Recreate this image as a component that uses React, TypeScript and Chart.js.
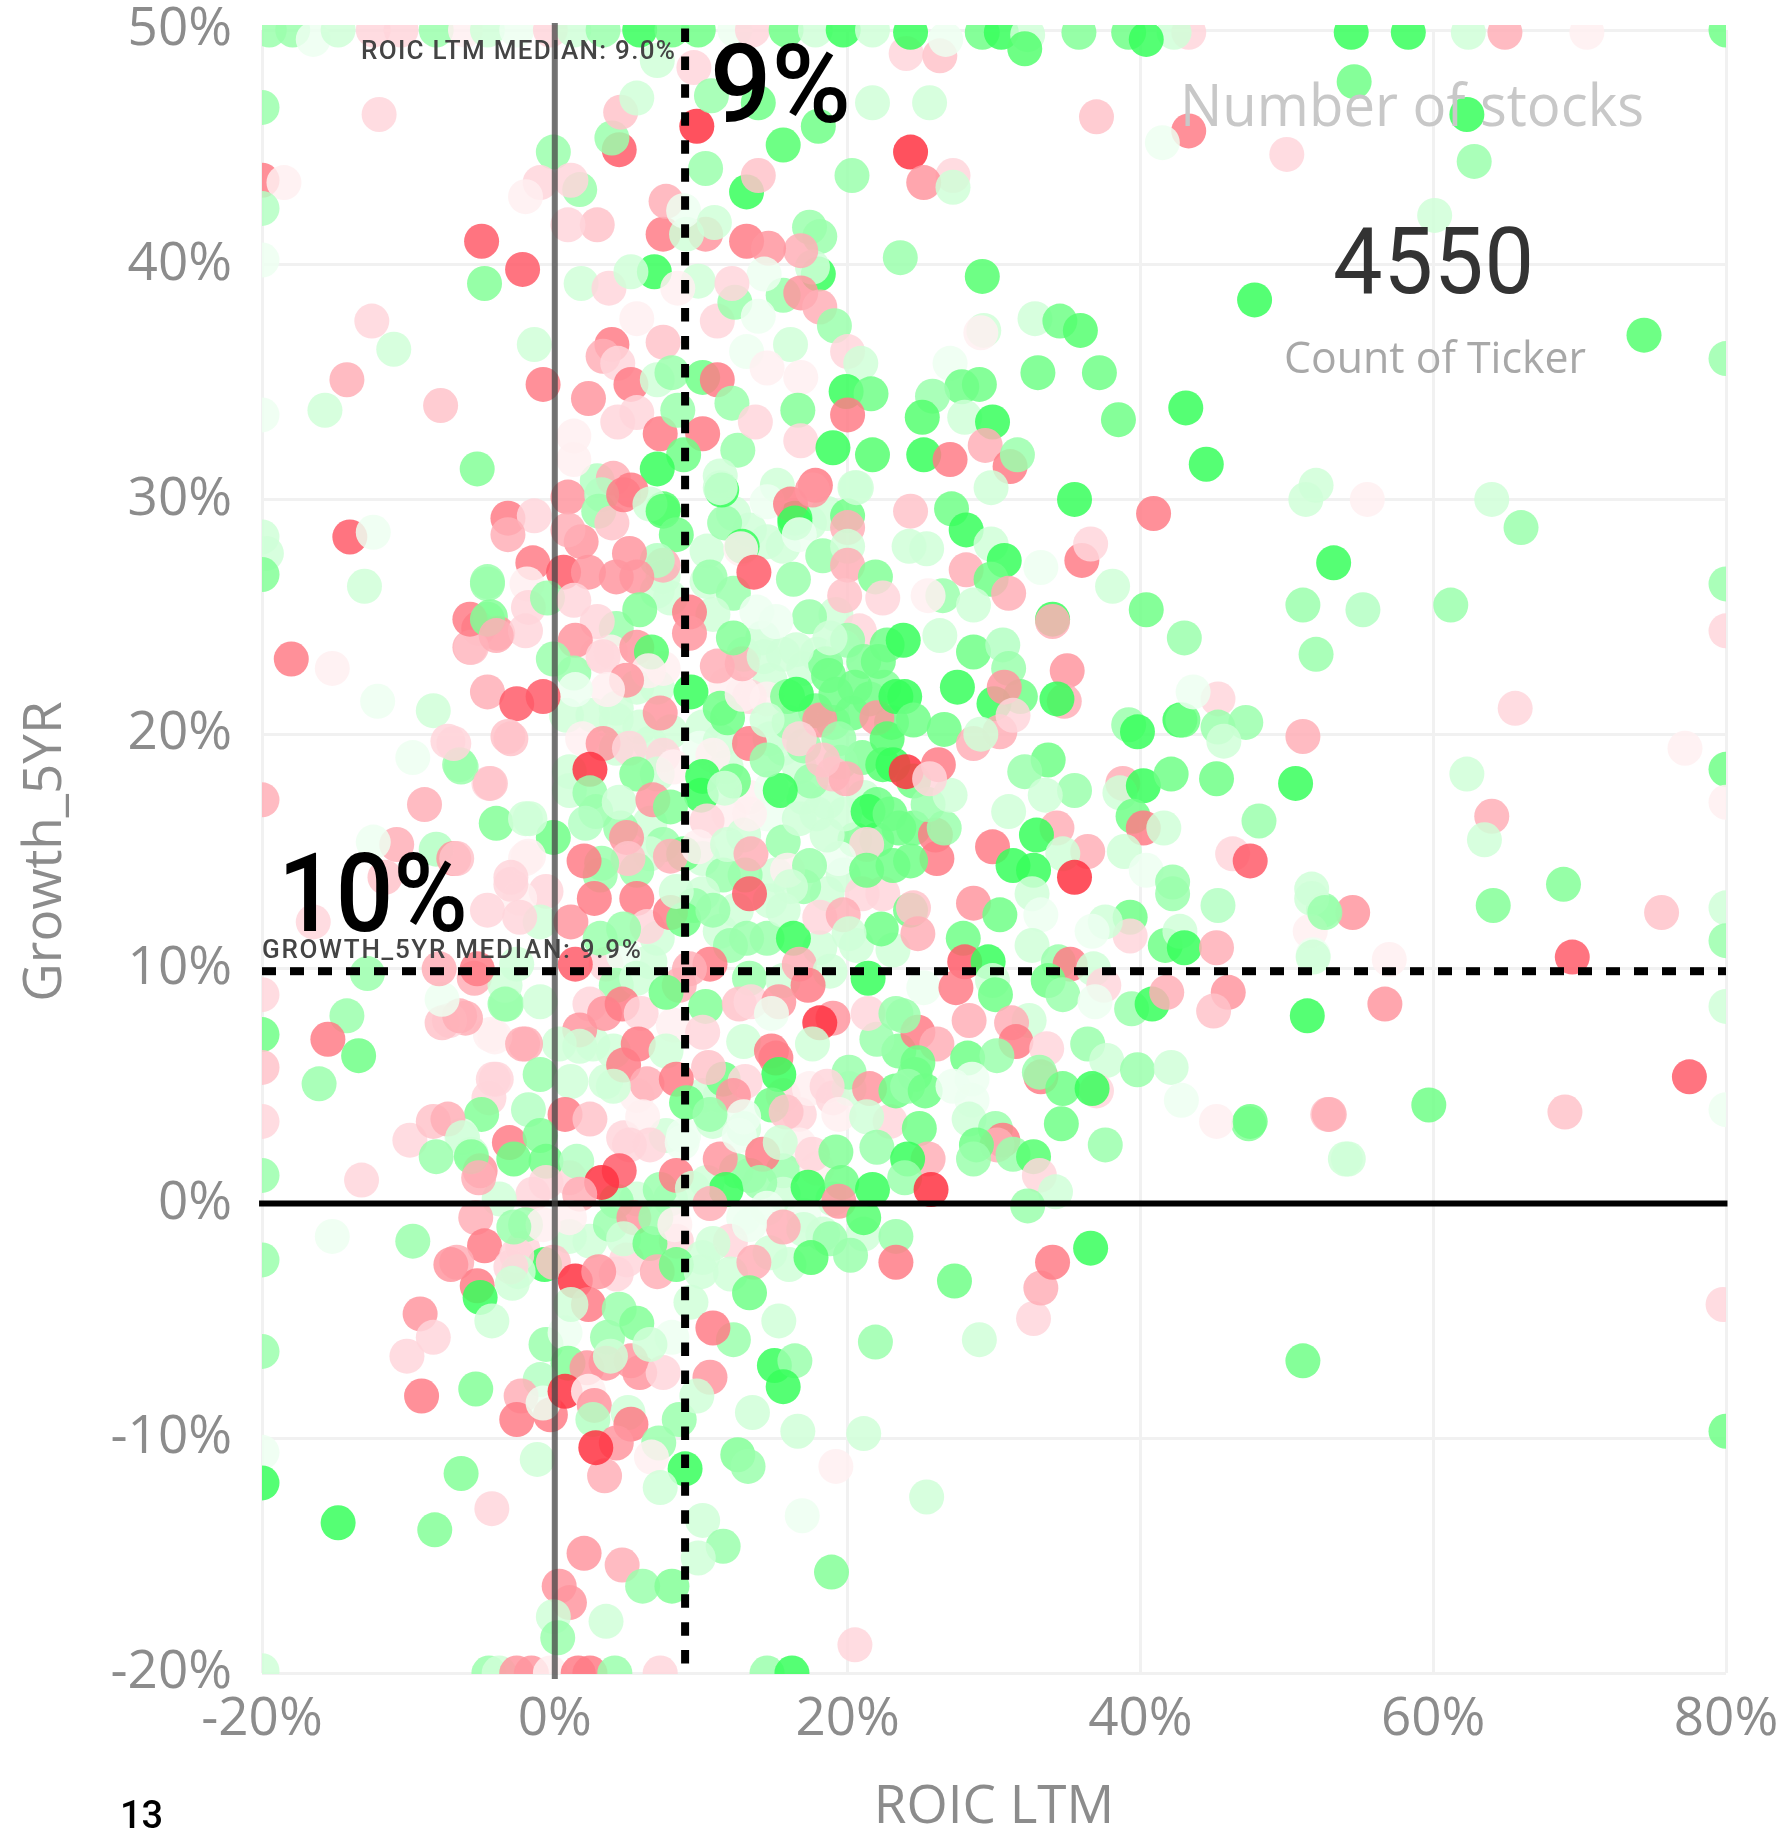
import React, { useEffect, useRef } from "react";
import { Chart, registerables } from "chart.js";

Chart.register(...registerables);

// Each stock: [ROIC LTM %, Growth_5YR %, colour measure] (positive = green, negative = red)
type P = [number, number, number];

const xTicksMin = -20, xTicksMax = 80, yTicksMin = -20, yTicksMax = 50;
const roicMedian = 8.9;
const growthMedian = 9.9;

const paleBackground: P[] = [
  [2.6,20.8,1],[4.2,20.6,1],[5.8,20.3,1],[7.9,20.1,1],[4.2,21.1,1],[.8,20.8,1],[6.5,19.6,1],[10.1,20.3,1],[9.9,19.4,.5],[11.3,19.7,1],[11.7,18.6,1],[14.7,19.8,1],[15.6,19.4,1],[16.7,18.6,1],[17,17.3,1],[18.6,17.1,1],[17.9,16.6,1],[21.1,17.3,1],[13.3,17.3,-.5],[14.5,16.6,.5],[11.9,16.6,-.5],[12.9,15.7,1],[10.8,19.1,-.5],[7.4,19.1,-1],[7,18.3,1],[4.2,19.4,1],[1,18.4,1],[2.8,16.7,2],[1,17.6,1],[6.5,16.2,1],[7.4,15.3,2],[6.5,14.9,1],[5.6,14.2,2],[3.1,14,2],[10.1,14.7,1],[11.5,14,2],[15.1,14,1],[19.7,14,1],
  [12.2,29.4,1],[13.3,28.7,1],[14.5,28.2,1],[15.6,28,1],[17.4,29,1],[18.6,29.4,1],[10.4,26.5,1],[12.2,26,2],[10.8,25.1,1],[14.2,24.1,1],[12.9,23.4,1],[15.6,23.4,1],[17,22.8,1],[14.7,22.3,1],[11.7,22.1,-.5],[13.3,21.6,-1],[17.9,23.4,1],[19.2,25.1,1],[20.8,24.4,-1],[19.7,23.7,.5],[4.2,24.5,2],[3.8,23.5,-.5],[2.9,23.4,-.5],[5.6,22,1],[7,22,1],[7.4,22.8,-.5],[7.4,26.7,1],[7,26.1,1],[7.9,25.8,1],
  [-4.4,7.2,-.5],[2.6,6.8,1],[3.5,5.2,1],[5.6,4.6,-.5],[7.6,2.9,1],[4.7,2.8,-1],[8.8,2.9,.5],[10.8,3.5,1],[10.1,4.6,1],[11.3,4.6,1],[12.9,3.2,1],[15.6,4.6,-1],[16.7,3.8,-1],[17.4,4.9,-.5],[19,4.5,-1],[20.1,4.9,1],[22.9,3.5,-1],[16.7,2.5,-.5],[15.6,1.4,2],[17.9,1.5,-.5],[12.4,1.4,2],[13.3,1.2,2],[15.6,.4,1],[19,.2,1],[10.4,.9,1],[5.6,.2,1],[7.9,.2,1],[4.2,.1,2],[1,1.1,-1],[-1.5,.4,-1],[-3.8,.2,1],
  [12.9,-.6,.5],[17,-.5,.5],[21.1,-1.3,1],[18.3,-1.3,1],[8.3,-1.6,-1],[10.1,-2.3,1],[14.7,-2.1,1],[17,-1.1,1],[12,-1.6,-1],[2.4,-1.6,1],[1,-1.4,1],[-2.2,-1.9,-1],[4.9,-2.4,-1],[4.2,-3,-1],[12,-3,1],[16,-2.6,1],
  [-.6,13.3,-1],[-2.4,13,-.5],[-1,12,1],[10.1,13.2,1],[12.4,12.5,1],[14.7,12.9,1],[18.6,13.2,1],[21,13.2,-1],[22.4,13.2,-1],[11.3,11.6,1],[14.5,11.3,2],[18.1,10.9,1],[20.6,11,1],[23.1,10.8,1],[6.5,10.3,1],[7,11.3,1],[3.5,10.2,-1],[4.7,10.6,.5],[13.3,9.6,2],[15.6,9.5,1],
];
const greenMass: P[] = [
  [17.8,21,3],[19,20.5,2.5],[20.3,20.9,3],[21.5,21.5,3],[18.5,23,2.5],[20,24,2],[22.5,22,2.5],[23,20.5,3],[21,19,2.5],[19.5,18.8,2],[17.5,18,2],[22,17,3],[23.5,16,3],[20.5,15.5,2.5],[22,15.5,3],[24.5,18,3],[24.5,16,3],[17,13.5,2],[16,20.5,2],[17,19.5,2],[24.6,5.5,3],[23.5,6.5,2.5],[22,7,2],[13,14,2],[9.5,12.7,2],[4.5,16,2],[12,11,2],
];
const topEdge: P[] = [
  [-19.5,50,2],[-17.9,50,2],[-16.5,49.6,.5],[-14.8,50,1],[-12.4,50,-1],[-10.5,50,-1],[-8.1,50,2],[-6.1,50,-.5],[-4.6,50,1],[-2.6,50,.5],[-.3,50,-1],[1.3,50,1],[3.3,50,2],[5.8,50,4],[8,50,3],[9.8,50,3],[12.3,50,.5],[13.5,50,-1],[15.8,50,3],[17.8,50,1],[19.7,50,4],[21.7,50,1],
  [24,49,-1],[26.3,48.9,-1.5],[24.3,49.9,4],[26.7,49.6,.5],[29.2,49.9,3],[30.5,49.9,4],[32.3,49.8,1],[32.1,49.2,3.5],[35.8,49.9,2.5],[39.2,49.9,3],[43.3,49.9,-1],[42.3,49.9,1],[40.4,49.6,4],[54.4,49.9,4],[58.3,49.9,4],[62.4,49.9,1],[64.9,49.9,-2],[70.5,49.9,-.5],[80,50,3],
];
const leftEdge: P[] = [
  [-20,46.7,2],[-20,43.6,-3],[-18.5,43.5,-.5],[-20,42.4,1.5],[-20,40.2,.5],[-20,33.6,.5],[-20,28.4,1],[-19.7,27.7,1],[-20,26.8,2.5],[-20,17.2,-2],[-20,8.9,-1],[-20,7.2,3],[-20,5.8,-1.5],[-20,3.5,-1],[-20,1.2,2],[-20,-2.4,2],[-20,-6.3,2],[-20,-10.6,.5],[-20,-11.9,4],[-20,-19.9,1],
];
const rightEdge: P[] = [
  [80,36,2],[80,26.4,2],[80,24.4,-1],[80,18.5,3],[80,17.1,-.5],[80,12.6,1],[80,11.2,2],[80,8.4,1],[80,4,.5],[79.8,-4.3,-1],[80,-9.7,3],
];
const upperField: P[] = [
  [-12,46.4,-1],[-.1,44.8,2],[4.4,44.9,-3.5],[3.9,45.4,2],[4.5,46.5,-1.5],[5.6,47.1,1],[7,48.7,1],[9.5,48.4,-1],[9.7,45.9,-4],[10.7,47.2,2],[13.9,46.9,3],[18,45.9,3],[15.6,45.1,3.5],[13.1,43.1,4],[10.3,44.1,2],[13.9,43.8,-1.5],[21.7,46.9,1],[20.3,43.8,2],
  [17.4,41.6,2],[18.1,41.2,2],[18,39.6,4],[17.6,39.9,1],[16.8,40.6,-2],[13.1,41,-3],[14.6,40.7,-2.5],[10.3,41.3,-2.5],[7.4,41.3,-3],[9,41.3,1],[7.6,42.7,-2],[8.8,42.3,.5],[10.9,41.8,1],[2.9,41.7,-1.5],[.9,41.7,-1],[1.7,43.2,2],[1.1,43.6,-1],[-1,43.5,-1],[-2,42.9,-.5],[-5,41,-3.5],[-2.2,39.8,-3.5],[-4.8,39.2,2.5],[1.8,39.2,1],[3.7,39,-1],[6.8,39.7,4],[5.2,39.7,1],[9.8,39.3,1],[8.4,39,-.5],
  [5.6,37.7,-.5],[11.1,37.6,-1],[12.3,38.4,2],[15.6,38.7,2],[16.8,38.8,-2.5],[14.3,39.6,.5],[12.1,39.2,-1],[18.1,38.2,-2],[19.1,37.4,2],[13.9,37.8,.5],[20,36.3,-1],[20.9,35.8,1],[16.1,36.6,1],[13.1,36.3,.5],[7.4,36.7,-1.5],[3.9,36.6,-3],[3.3,36.1,-2],[4.3,35.8,-1],[5.2,34.9,-3],[7,35.1,1],[8,35.4,2],[10.1,35.2,3],[11.1,35.1,-3],[14.5,35.6,-.5],[16.8,35.2,-.5],[12.1,34.1,2],[16.6,33.8,2.5],[19.9,34.6,4],[21.6,34.5,3],[20,33.6,-3],[2.3,34.3,-2.5],[-.8,34.9,-3],[-1.4,36.6,1],[-12.5,37.6,-1],[-11,36.4,1],[-14.2,35.1,-2],[-15.7,33.8,1],[-7.8,34,-1.5],[-5.3,31.3,2.5],
  [1.3,32.7,-.5],[4.3,33.3,-1],[5.6,33.7,-1],[7.2,32.8,-3],[8.4,33.8,2],[10.1,32.8,-3],[12.5,32.1,2],[13.7,33.3,-1],[16.8,32.5,-1],[19,32.2,4],[21.7,31.9,3.5],[8.8,31.9,3],[11.3,31,1],[7,31.3,4],[2.9,30.8,1.5],[4,30.9,-2],[1.3,31.7,-.5],[5.2,30.4,-3],[7.4,29.6,3.5],[16.4,29.2,4],[17.8,30.6,-3],[20.5,30.5,1],[15.2,30.6,1],
  [-14,28.4,-3.5],[-12.4,28.6,.5],[-13,26.3,1],[-4.6,26.5,2],
  [25.6,46.9,1],[24.3,44.8,-4],[27.2,43.8,-1],[25.2,43.5,-2.5],[27.2,43.3,1],[23.6,40.3,2],[29.2,39.5,3.5],[47.8,38.5,4],[74.4,37,3.5],[29.3,37.2,1],[29.1,37.1,-.5],[32.8,37.7,1],[34.5,37.6,3],[35.9,37.2,3.5],[27,35.8,.5],[33,35.4,3],[37.2,35.4,3],[29,34.9,3],[27.8,34.8,3],[25.8,34.4,2],[25.1,33.5,3.5],[28,33.5,1],[29.9,33.3,4],[38.5,33.4,3],[43.1,33.9,4],[44.5,31.5,4],[25.2,31.9,4],[27,31.7,-3],[29.4,32.3,-2],[31.1,31.4,-3],[31.6,31.9,2],[29.8,30.5,1],
  [54.6,47.8,3],[62.3,46.4,4],[62.8,44.4,2],[43.3,45.7,-3],[41.5,45.2,.5],[37,46.3,-1.5],[50,44.7,-1],[60.1,42.1,1],
];
const middleLeft: P[] = [
  [-3.2,29.2,-3],[-1.4,29.3,-1],[-3.2,28.5,-2],[-1.5,27.3,-3],[.6,26.9,-3.5],[2.3,26.9,-2.5],[.9,30.1,-2.5],[1.8,28.2,-2.5],[.9,28.7,-2],[-4.6,26.4,2],[-5.2,24.5,-3],[-4.4,25,2.5],[-3.9,24.3,-2.5],[-5.8,23.7,-2],[-1.9,26.4,-.5],[-1.8,25.4,-1],[-2,24.4,-1],[-.5,25.8,2],[1.3,25.7,-1],[2.9,24.8,-1],[1.4,24,-2.5],[-.1,23.2,2],[1.3,22.6,2],
  [3.2,30.2,1.5],[3,29.5,2],[3.9,29,-1.5],[4.7,30.2,-3],[6.5,29.8,1],[7.4,29.5,3.5],[8.3,28.5,3],[7.4,27.2,-2],[7,27.4,1.5],[5.1,27.7,-2.5],[4.2,26.7,-2.5],[5.6,26.7,-2.5],[5.8,25.3,2.5],[9.2,25.2,-3],[9.2,24.3,-2.5],[5.6,23.7,-2.5],[6.6,23.5,3.5],[3.3,23.3,-1],[6.4,22.7,-.5],[4.9,22.3,-2.5],[3.6,21.9,-.5],[1.4,21.9,.5],[7.2,20.9,-2.5],
  [-18,23.2,-3],[-15.2,22.8,-.5],[-12.1,21.4,.5],[-8.3,21,1],[-4.6,21.8,-2],[-2.6,21.3,-3.5],[-.8,21.6,-3.5],[-5.7,23.7,-1.5],[-5.8,24.9,-3],[-4.6,24.9,2.5],[-4,24.2,-2],[-3.2,19.9,-1.5],[-7.3,19.7,-1],[-6.5,18.7,2],[-4.5,17.9,-1],[-9.7,19,.5],[-8.9,17,-2],[-4,16.2,2.5],[-2,16.4,1],[-.1,15.6,3],[-10.8,15.3,-2],[-12.4,15.4,.5],[-8.1,15.1,1.5],[-6.9,14.7,-2.5],[-11.6,13.9,-1.5],[-2,14.7,-.5],[-3,13.6,-1],[-4.6,12.5,-1],[-16.5,12,-1],
  [-3,19.8,-1.5],[-6.4,18.6,2],[-6.9,19.6,-1],[-4.4,17.9,-1.5],[1.9,19.8,-.5],[3.3,19.6,-2.5],[5.1,19.4,-1],[2.4,18.5,-4],[5.6,18.3,2.5],[8.1,18.6,-.5],[10.1,18.2,4],[10,17.4,4],[12.2,18,3],[11.6,17.7,1],[2.4,17.5,2],[4.4,17.1,1],[6.7,17.2,-2.5],[7.9,16.9,2.5],[-1.7,16.4,1],[2.1,16.2,1.5],[4.9,15.6,-2.5],[5,14.7,-1.5],[3.2,14.5,2],[2,14.6,-3],[-1.8,14.8,-.5],[-6.7,14.7,-1.5],[-3,13.9,-1],
  [8.8,14.9,3],[7.9,14.8,-2],[10.4,16.3,-1],[9.8,15.2,-.5],[11.8,15.3,1],[13.4,14.9,-2],[15.6,15.4,2],[14.8,17.7,.5],[15.4,17.6,4],[15.9,14.2,-.5],[13.3,16.6,-.5],
];
const middleCentre: P[] = [
  [9.3,21.8,4],[11.3,21.1,3],[11.8,20.7,3],[12.8,21.7,-.5],[14.5,21.5,-.5],[15.9,21.6,2.5],[16.5,21.7,4],[18.1,20.6,-2.5],[16.7,19.8,-1],[13.3,19.6,-3],[19.4,19.8,2],[22,20.7,-2.5],[22.7,19.8,3.5],[14.5,20.6,1],[14.5,18.9,2],
  [11.1,22.9,-2],[12.8,23,-2],[12.2,24.1,2.5],[10.4,27.8,1],[11.6,29,2],[11.4,30.4,4],[11.3,30.5,1],[10.6,26.7,2],[12.8,28,4],[12.7,27.9,-.5],[13.6,26.9,-3.5],[14.5,29.9,.5],[16.1,29.8,-3],[16.4,29,4],[16.7,28.5,.5],[18.3,27.6,2],[16.3,26.6,2],[17.6,30.4,-2.5],[20,29.3,3],[20,28.8,-2],[20,28,1],[20,27.2,-2],[20.6,30.5,1],[21.9,26.7,2.5],[19.8,25.9,-1.5],[22.4,25.8,-1],[17.4,25,2],[13.8,25.2,.5],[15.1,24.8,.5],[18.8,24.1,1],[16.5,23.6,1],[14.3,23.3,1],[21.1,23.1,2.5],[18.7,22.5,3],[20.5,22,3],[19.2,21.7,3],[22.7,23.8,3],[22.1,23.1,3],[23.3,21.6,4],
  [19,18.3,-1.5],[19.9,18.1,-2],[18.3,18.9,-1.5],[19.8,16.6,1],[21.4,16.7,4],[22.4,18.7,3.5],[21.3,15.3,-1],[19.4,14.7,.5],[17.4,14.4,2],[21.3,14.2,3],[23.1,14.4,3],[18.6,15.7,1],[16.7,16.4,1],[22.9,16.6,3],[23.1,18.7,4],
];
const middleRight: P[] = [
  [24.3,29.5,-1.5],[27.1,29.6,3],[28.1,28.7,4],[29.8,28.1,1],[24.2,28,1],[25.4,27.9,1],[30.7,27.4,4],[28.1,27,-2],[29.8,26.6,3],[31,26,-2],[33.2,27.1,.5],[36,27.4,-3],[36.6,28.1,-1],[35.5,30,4],[40.9,29.4,-3],[51.3,30,1],[52,30.6,1],[53.2,27.3,4],[51.1,25.5,2],[52,23.4,2],[38.1,26.3,1],[40.4,25.3,3],[43,24.1,2],[34,24.9,4],[34,24.8,-2],[26.3,24.2,1],[28.6,23.5,3],[30.6,23.8,1.5],[26.5,25.9,2],[25.5,25.9,-.5],[28.6,25.5,1],[23.8,24,4],
  [35,22.7,-2.5],[31,22.8,2],[27.5,22,4],[31.8,21.6,3],[30,21.3,4],[30.7,22,-2.5],[34.8,21.4,-2],[34.3,21.5,4],[23.9,21.6,4],[24.5,20.6,3],[26.6,20.2,3],[30.4,20.1,-2],[28.6,19.6,-2],[29.1,20,1],[31.3,20.8,-1],[39.2,20.4,2],[39.8,20.1,4],[42.7,20.6,4],[42.9,20.6,3],[45.3,21.5,-1],[43.6,21.8,.5],[45.3,20.3,2],[47.2,20.5,2],[45.7,19.7,1],[51.1,19.9,-2],
  [33.7,18.9,3],[32.1,18.4,2],[35.5,17.6,2],[33.5,17.4,1],[38.8,17.9,-2],[38.6,17.5,1],[40.2,17.8,4],[42.1,18.3,3],[45.2,18.1,3],[50.6,17.9,4],[48.1,16.3,2],[46.3,14.9,-1],[47.5,14.6,-3.5],[39.5,16.5,3],[40.2,16,-3],[41.6,16,1],[38.9,15,1],[34.3,16,-2],[32.9,15.7,4],[36.4,15,-2],[34.7,14.9,1],[29.9,15.2,-3],[31.3,14.4,4],[32.7,14.2,4],[35.5,13.9,-4],[26,15.7,-3],[26.1,14.7,-3],[26.6,16,2],[24.3,14.6,3],[25.5,17,2],[27,17.4,1],[31,16.7,1],[24,18.4,-4],[26.2,18.7,-3],[25.6,18.1,-1],[40.4,14.2,.5],[42.2,13.7,2],
  [65.6,21.1,-1],[77.2,19.4,-.5],[62.3,18.3,1],[64,16.5,-2],[63.5,15.5,1],[68.9,13.6,2.5],[64.1,12.7,2.5],[75.6,12.4,-1.5],[54.5,12.4,-2.5],[52.5,12.5,2],[51.7,13.4,1],[51.6,11.6,-.5],[51.8,10.6,.5],[57,10.4,-.5],[69.5,10.5,-3.5],[56.7,8.5,-2.5],[51.4,8,4],[77.5,5.4,-3.5],[59.7,4.2,3],[69,3.9,-1.5],[52.8,3.8,-1.5],[47.4,3.4,2.5],[45.2,3.5,-.5],[54.2,1.9,1],[55.2,25.3,1.5],[61.2,25.5,2],[64,30,1],[66,28.8,2],[55.5,30,-.5],
];
const lowerLeft: P[] = [
  [-2.4,12.2,-1],[1.1,12,-2.5],[2.7,13,-3],[5.6,13,-3],[6.3,11.8,-1],[3.1,11.3,2],[4.7,11.7,2],[7.9,12.4,-3],[8.8,12.1,3],[10.8,12.5,2],[8.3,13.3,1],[10.6,10.2,-3],[9.2,10,-2],[13.3,13.2,-3.5],[13.1,11.3,2],[15.6,12.5,1],[16.3,11.3,4],[18.1,12.2,-1],[19.7,12.3,-2],[22.3,11.7,3],[16.7,10.2,-2],[18.8,9.9,1],[21.4,9.6,4],[17.3,9.3,-3],[20.1,11.5,1],[16.1,13.5,1],
  [1.4,10.2,-3.5],[-5.5,9.6,-2],[-3.3,8.5,2],[-6.1,7.9,-2],[-7.2,7.8,-1],[-1,8.6,1],[-3.4,9.3,1],[-2.6,10.2,1],[4.2,9.3,2],[5.6,9.6,1],[2.4,8.5,-1],[3.4,8.1,-2.5],[4.6,8.5,-3],[5.9,8.1,-1],[8.1,7.6,-.5],[8.5,9.3,-2],[7.6,9,3],[10.3,8.4,2.5],[12.6,8.5,-1.5],[13.4,8.6,-1],[15.3,8.6,-2.5],[14.8,8.1,.5],[19,7.9,-2.5],[18.1,7.7,-4],[17.6,6.8,1],[21.4,8.1,-1],[23.3,8.1,2],[12.9,6.9,1],[10.1,7.3,-1],[1.7,7.4,-2.5],[1.7,6.7,1],[.3,6.8,1],[-2,6.8,-2],[-4.1,7.1,-.5],[4,6.5,1],[5.7,6.8,-3],[4.7,5.9,-3],[7.6,6.5,1],[11.5,5.3,3],[10.5,5.8,-1.5],[6.3,5.1,-2],[8.3,5.3,-3],[14.8,6.5,-3],[15.1,6.2,-3],[15.3,5.5,4],[20.1,5.6,2],[18.6,5,-1],[21.5,4.9,-2.5],[13,5.2,-1],[12.2,4.6,-2.5],[14.8,4.2,3],[15.8,3.9,-1.5],[12.9,3.7,.5],[19.4,3.8,-.5],[21.3,3.7,1],[23.3,4.8,3],
  [-1,5.5,2],[1.1,5.2,1],[4,5,1],[-4,5.3,-1],[-4.5,4.5,-1],[-5,3.8,2.5],[-1.8,4,1.5],[.7,3.8,-3],[2.4,3.6,-1.5],[6,3.7,-.5],[9,4.3,3],[10.6,3.8,2],[-6.4,2.9,.5],[-3.1,2.6,-3],[-5.7,2.1,1],[-5.1,1.4,-2.5],[-2.8,1.9,3],[-1,2.9,2.5],[-.6,1.8,3],[1.5,1.8,1.5],[5.1,2.5,-1],[6.5,2.5,-1],[8.7,2.6,.5],[11.3,1.9,-2.5],[12.6,2.9,.5],[14.2,2.1,-3],[15.4,2.6,1],[17.6,2.1,-1],[19.2,2.2,2.5],[22,2.4,2],
  [4.4,1.4,-3.5],[3.2,.9,-4],[7.2,.6,2],[8.3,1.2,-3],[11.7,.6,4],[14,.9,2],[17.3,.7,4],[19.6,.9,3],[21.7,.6,4],[1.7,.4,-2],[-.6,.9,-1],[19.4,.1,-2.5],[21.1,-.6,3.5],[9.4,.65,1],[14.5,-.2,.5],
  [-14.2,8,2],[-15.5,7,-3],[-13.4,6.3,3],[-16.1,5.1,2],[-13.2,1,-1],[-9.9,2.7,-1],[-8.3,3.5,-1.5],[-7.3,3.6,-2],[-6.3,2.8,1],[-8.1,2,2],[-5.7,2,2.5],[-5.2,1.1,-2],[-7.7,7.7,-1.5],[-6.5,8,-2],[-7.7,8.7,.5],[-3.4,8.5,2],[-2.2,6.8,-2],[-4.2,5.3,-1],[-5.3,10,-3],[-12.8,9.8,2],[-7.9,10,-2],
];
const lowerRight: P[] = [
  [28.6,12.8,-2.5],[30.4,12.3,3],[32.6,13.2,1],[33.2,12.3,.5],[24.3,12.5,3],[24.5,12.6,-1.5],[24.8,11.5,-2],[27.9,11.3,3],[39.3,12.2,3],[39.3,11.4,-1],[37.6,12,1],[36.7,11.6,.5],[42.2,13.2,2],[45.3,12.7,1.5],[41.7,11,3],[42.7,11.6,1],[43,10.9,4],[45.2,10.9,-2],[51.7,13,1],[52.6,12.4,2],[51.8,10.5,1],
  [28,10.3,-3.5],[29.6,10.3,4],[29.9,9.5,1],[30.1,8.9,3],[32.6,11,1],[34.4,10.3,2],[35.2,10.2,-3],[36.8,10,1],[33.7,9.5,3],[34.7,8.9,2],[37.5,9.3,-1],[36.9,8.6,.5],[25.2,9.2,.5],[27.4,9.2,-3],[39.4,8.3,2],[40.8,8.5,4],[41.8,9,-2],[46,9,-2.5],[45,8.2,-1.5],
  [28.3,7.8,-2],[32.4,7.8,1],[31.2,7.7,-2],[31.5,6.9,-3],[33.6,6.6,-1],[24.8,7.3,-3],[26.1,6.8,-2],[23.8,8,2],[36.4,6.8,2],[37.7,6.1,1],[39.8,5.7,2],[42.1,5.8,1],[42.8,4.4,.5],[47.5,3.5,3],[52.9,3.8,-2],[54,1.9,1],
  [28.2,6.2,3],[30.2,6.3,2],[24.8,6,3],[24.1,5,2],[25.3,4.8,3],[28.5,5.3,.5],[27.2,5,.5],[28.5,4.4,.5],[33.2,5.4,-3],[33.1,5.6,2],[34.7,4.9,3],[37,4.8,-1],[36.7,4.9,4],[34.6,3.4,3],[37.6,2.5,2],[24.9,3.2,3],[28.3,3.6,1],[30.1,3.2,2],[30.6,2.7,-3],[30.2,2.5,-2],[28.8,2.5,3],[28.6,1.9,2],[31.3,2.1,2],[32.7,2,3.5],[33.1,1.2,-1],[34.2,.5,1],[32.3,-.1,2],[25.5,1.9,-2],[24.1,1.9,4],[23.9,1.1,2],[25.7,.6,-4],
];
const belowZero: P[] = [
  [-5.4,-.6,-2],[-4.8,-1.8,-3],[-6.7,-2.5,-2],[-2,-.9,2],[-.8,-.9,-.5],[1,-.6,-.5],[3.8,-.9,2],[5.4,-.6,-2.5],[4.7,-1.5,1],[6.5,-1.7,3],[6.9,-.6,2],[8.2,-.9,-.5],[10.8,-1.7,1],[10.6,0,-2],[15.6,-1,-2],[13.3,-.9,.5],[18.8,-1.5,2],[17.5,-2.3,3.5],[20.2,-2.2,2],[23.3,-1.4,2],[23.3,-2.5,-3],[-.7,-2.6,4],[-.1,-2.5,-1.5],[1.4,-3.3,-4],[3,-2.9,-2.5],[7,-2.9,-2],[8.3,-2.6,3],[13.6,-2.5,-2],[10,-2.9,1],[-2.6,-2.2,-1],[-2.5,-2.9,1],
  [-5.3,-3.5,-3],[-5.1,-4,4],[-4.3,-5,1],[-.6,-6,2],[.7,-5.5,.5],[.9,-6.8,2.5],[2.3,-4.3,-3],[1.1,-4.3,1],[3.6,-5.7,2],[4.4,-4.5,2],[5.6,-5.1,2.5],[8,-5.7,.5],[9.3,-4.2,1],[12.2,-5.8,2],[10.8,-5.3,-3],[13.3,-3.8,3],[15.3,-5,1],[15,-6.9,4],[16.4,-6.7,2],[15.6,-7.8,4],[21.9,-5.9,2],[13.5,-8.9,1],[16.6,-9.7,1],[21.1,-9.8,1],[12.5,-10.7,2.5],[13.2,-11.2,2],[19.2,-11.2,-.5],[16.9,-13.3,.5],[18.9,-15.7,2.5],[20.5,-18.8,-1],
  [3.5,-6.8,-2.5],[5.8,-7.2,-2.5],[7.4,-7.2,-1],[10.6,-7.4,-2.5],[5.2,-6.7,-2.5],[2.2,-7,-2.5],[3.8,-6.5,1],[6.5,-6,1],[-1,-7.5,1.5],[-2.3,-8.2,-2],[-2.6,-9.2,-3],[-.3,-9,-3],[-.8,-8.5,.5],[.7,-8,-4],[2.3,-8,-.5],[2.7,-8.6,-2.5],[2.6,-9.2,1.5],[5,-8.9,1],[5.2,-9.4,-3],[4.2,-10.2,-2.5],[7.1,-10.2,2],[8.5,-9.2,2],[9.7,-8.2,1],[3.4,-11.6,-2],[2.8,-10.4,-4],[6.6,-10.8,-.5],[8.9,-11.3,4],[7.2,-12.1,1],[-1.2,-10.9,1],[-6.4,-11.5,2.5],[-4.3,-13,-1],[10.1,-13.5,1],[11.5,-14.6,2],[9.8,-15.1,1],[2,-14.9,-2.5],[4.6,-15.4,-2],[6,-16.3,2],[8,-16.3,2.5],[.3,-16.3,-2.5],[1,-17,-2.5],[-.1,-17.6,1],[.2,-18.5,2],[3.5,-17.8,1],
  [-14.8,-13.6,4],[-8.2,-13.9,2.5],[-15.2,-1.4,.5],[-9.7,-1.6,2],[-7.1,-2.6,-2.5],[-9.2,-4.7,-2.5],[-8.3,-5.7,-1],[-10.1,-6.5,-1],[-9.1,-8.2,-3],[-5.4,-7.9,2.5],[-3,-2.7,-1],[-2.9,-3.4,1],[-2.8,-1,2],
  [29,-5.8,1],[32.7,-4.9,-1],[33.2,-3.6,-2],[34,-2.5,-3],[36.6,-1.9,4],[27.3,-3.3,3],[51.1,-6.7,3],[25.4,-12.5,1],
];
const bottomEdge: P[] = [
  [-4.5,-20,2],[-3.8,-20,1],[-2.6,-20,-2.5],[-1.6,-20,-2.5],[-.3,-20,-.5],[1.6,-20,-3],[2.4,-20,-3],[4.1,-20,2],[7.2,-20,-1],[14.5,-20,2],[16.2,-20,4],
];

const allStocks: P[] = [
  ...paleBackground, ...greenMass, ...topEdge, ...leftEdge, ...rightEdge, ...upperField, ...middleLeft, ...middleCentre,
  ...middleRight, ...lowerLeft, ...lowerRight, ...belowZero, ...bottomEdge,
];

const greenRamp: Record<string, number[]> = {
  "4": [55, 92], "3.5": [85, 112], "3": [112, 135], "2.5": [132, 152], "2": [155, 173], "1.5": [180, 195], "1": [208, 216], "0.5": [237, 241],
};
const redRamp: Record<string, number[]> = {
  "4": [50, 66], "3.5": [92, 106], "3": [124, 135], "2.5": [150, 160], "2": [175, 183], "1.5": [195, 202], "1": [214, 220], "0.5": [240, 241],
};
const colorFor = (k: number) => {
  const key = String(Math.abs(k));
  if (k > 0) {
    const [a, b] = greenRamp[key];
    return `rgba(${a},255,${b},0.85)`;
  }
  const [a, b] = redRamp[key];
  return `rgba(255,${a},${b},0.85)`;
};

const GREY = "#8c8c8c";
const AXIS_FONT = "'Open Sans'";

const textPlugin = {
  id: "overlayTexts",
  afterDatasetsDraw(chart: any) {
    const ctx = chart.ctx;
    const put = (t: string, x: number, y: number, font: string, color: string, maxW?: number, spacing?: string) => {
      ctx.save();
      ctx.font = font;
      ctx.fillStyle = color;
      ctx.textAlign = "left";
      ctx.textBaseline = "alphabetic";
      if (spacing) (ctx as any).letterSpacing = spacing;
      if (maxW) ctx.fillText(t, x, y, maxW);
      else ctx.fillText(t, x, y);
      ctx.restore();
    };
    put("ROIC LTM MEDIAN: 9.0%", 361, 59, "500 26px Roboto", "#444444", 316, "1.3px");
    put("GROWTH_5YR MEDIAN: 9.9%", 262, 958, "500 26px Roboto", "#444444", 381, "1.7px");
    put("9%", 710, 122, "500 110px Roboto", "#000000", 141);
    put("10%", 278, 931, "500 110px Roboto", "#000000", 190);
    put("Number of stocks", 1180, 126, "58px 'Open Sans'", "#c8c8c8", 464);
    put("4550", 1333, 293, "92px Roboto", "#333333", 202, "1px");
    put("Count of Ticker", 1284, 373, "44px 'Open Sans'", "#a8a8a8", 302);
    put("13", 120, 1828, "500 38px Roboto", "#000000");
  },
};

const zeroPadding = (s: any) => {
  s.paddingTop = 0;
  s.paddingBottom = 0;
  s.paddingLeft = 0;
  s.paddingRight = 0;
};

export default function App() {
  const ref = useRef<HTMLCanvasElement>(null);
  useEffect(() => {
    const chart = new Chart(ref.current!, {
      type: "scatter",
      data: {
        datasets: [
          {
            label: "Stocks",
            order: 5,
            data: allStocks.map(([x, y]) => ({ x, y })),
            backgroundColor: allStocks.map((p) => colorFor(p[2])),
            borderWidth: 0,
            pointRadius: 17.5,
            clip: { left: 0, top: 5, right: 0, bottom: 1 },
          },
          {
            label: "Zero growth",
            order: 3,
            data: [{ x: -20.2, y: 0 }, { x: 80.1, y: 0 }],
            showLine: true,
            pointRadius: 0,
            borderColor: "#000000",
            borderWidth: 6,
            clip: false,
          },
          {
            label: "Zero ROIC",
            order: 2,
            data: [{ x: 0, y: 50.3 }, { x: 0, y: -20.26 }],
            showLine: true,
            pointRadius: 0,
            borderColor: "rgba(70,70,70,0.75)",
            borderWidth: 6,
            clip: false,
          },
          {
            label: "ROIC median",
            order: 1,
            data: [{ x: roicMedian, y: -19.6 }, { x: roicMedian, y: 50.1 }],
            showLine: true,
            pointRadius: 0,
            borderColor: "#000000",
            borderWidth: 8,
            borderDash: [13.5, 14.46],
            clip: false,
          },
          {
            label: "Growth median",
            order: 0,
            data: [{ x: -20, y: growthMedian }, { x: 80, y: growthMedian }],
            showLine: true,
            pointRadius: 0,
            borderColor: "#000000",
            borderWidth: 8,
            borderDash: [14, 14],
            clip: false,
          },
        ],
      } as any,
      options: {
        responsive: false,
        animation: false,
        events: [],
        layout: { autoPadding: false, padding: { left: 0, top: 30, right: 60, bottom: 0 } },
        plugins: { legend: { display: false }, tooltip: { enabled: false } },
        scales: {
          x: {
            type: "linear",
            min: xTicksMin,
            max: xTicksMax,
            afterFit: (s: any) => { s.height = 158; zeroPadding(s); },
            grid: { color: "#f1f1f1", lineWidth: 3, drawTicks: false },
            border: { display: false },
            ticks: {
              stepSize: 20,
              padding: 15,
              color: GREY,
              maxRotation: 0,
              font: { family: AXIS_FONT, size: 53 },
              callback: (v: any) => `${v}%`,
            },
            title: {
              display: true,
              text: "ROIC LTM",
              color: GREY,
              font: { family: AXIS_FONT, size: 53 },
              padding: { top: 0, bottom: -9 },
            },
          },
          y: {
            type: "linear",
            min: yTicksMin,
            max: yTicksMax,
            afterFit: (s: any) => { s.width = 262; zeroPadding(s); },
            grid: { color: "#f1f1f1", lineWidth: 3, drawTicks: false },
            border: { display: false },
            ticks: {
              stepSize: 10,
              padding: 30,
              color: GREY,
              font: { family: AXIS_FONT, size: 53 },
              callback: (v: any) => `${v}%`,
            },
            title: {
              display: true,
              text: "Growth_5YR",
              color: GREY,
              font: { family: AXIS_FONT, size: 53 },
              padding: { top: 14, bottom: 0 },
            },
          },
        },
      } as any,
      plugins: [textPlugin],
    });
    return () => chart.destroy();
  }, []);
  return (
    <div style={{ position: "absolute", left: 0, top: 0, width: 1786, height: 1831, background: "#ffffff" }}>
      <canvas ref={ref} width={1786} height={1831} style={{ display: "block" }} />
    </div>
  );
}
